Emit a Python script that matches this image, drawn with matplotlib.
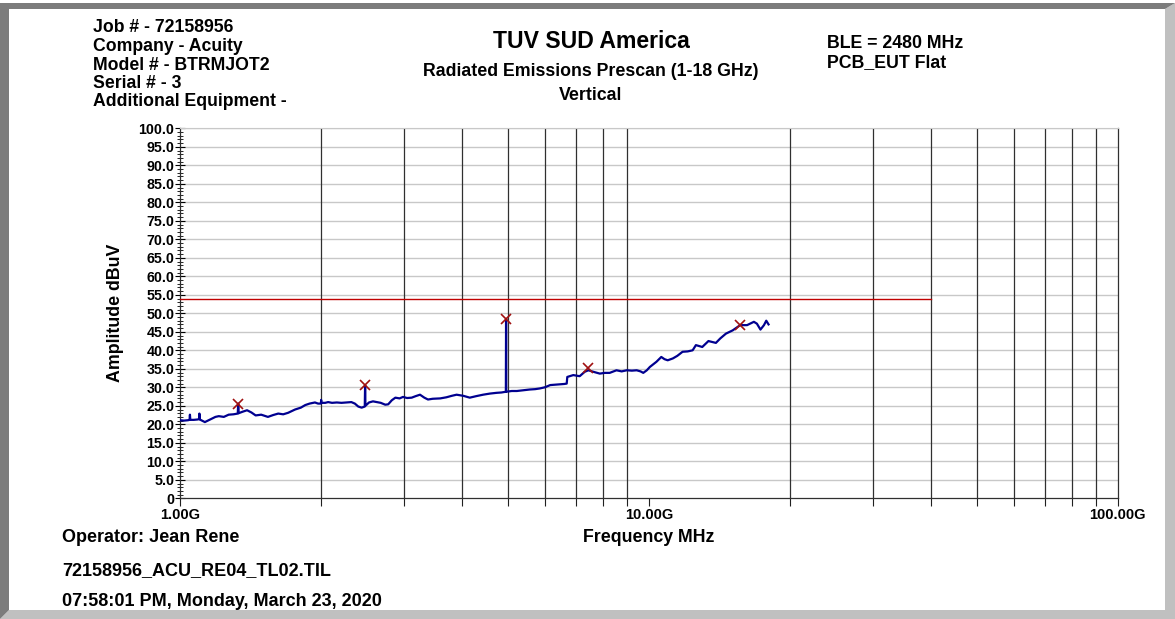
import matplotlib
matplotlib.use("Agg")
import matplotlib.pyplot as plt
from matplotlib.patches import Polygon
from matplotlib.ticker import FixedLocator, MultipleLocator, NullFormatter

plt.rcParams['font.family'] = ['Liberation Sans', 'DejaVu Sans']
plt.rcParams['font.weight'] = 'bold'

# Prescan trace (GHz, dBuV)
trace_ghz = [1.000, 1.02, 1.04, 1.048, 1.050, 1.052, 1.07, 1.09, 1.098, 1.100, 1.102,
             1.13, 1.16, 1.19, 1.21, 1.24, 1.27, 1.30, 1.328, 1.331, 1.334, 1.36, 1.39,
             1.42, 1.45, 1.49, 1.54, 1.58, 1.62, 1.66, 1.70, 1.76, 1.81, 1.85, 1.89,
             1.94, 1.97, 1.998, 2.000, 2.002, 2.04, 2.07, 2.11, 2.16, 2.21, 2.27, 2.32,
             2.36, 2.40, 2.44, 2.478, 2.482, 2.486, 2.53, 2.58, 2.63, 2.68, 2.74, 2.78,
             2.83, 2.88, 2.94, 2.99, 3.05, 3.12, 3.18, 3.25, 3.32, 3.38, 3.46, 3.59,
             3.70, 3.80, 3.89, 4.02, 4.15, 4.28, 4.43, 4.58, 4.73, 4.85, 4.955, 4.96,
             4.965, 5.10, 5.23, 5.40, 5.57, 5.72, 5.86, 6.00, 6.16, 6.30, 6.45, 6.60,
             6.68, 6.70, 6.90, 7.12, 7.30, 7.43, 7.61, 7.86, 8.05, 8.25, 8.53, 8.75,
             8.97, 9.20, 9.42, 9.60, 9.73, 9.90, 10.05, 10.38, 10.63, 10.80, 10.97,
             11.25, 11.50, 11.80, 12.10, 12.40, 12.60, 13.00, 13.40, 13.90, 14.20,
             14.60, 15.10, 15.66, 16.20, 16.50, 16.75, 17.00, 17.30, 17.60, 17.80, 18.00]
trace_dbuv = [21.1, 21.0, 21.1, 21.2, 22.6, 21.2, 21.2, 21.3, 21.4, 22.9, 21.3,
              20.6, 21.3, 22.0, 22.2, 22.0, 22.6, 22.7, 22.9, 25.6, 23.0, 23.4, 23.8,
              23.2, 22.4, 22.6, 22.0, 22.5, 22.9, 22.7, 23.1, 24.0, 24.5, 25.2, 25.6,
              25.9, 25.6, 25.6, 26.6, 25.8, 25.8, 26.0, 25.8, 25.9, 25.8, 25.9, 26.0,
              25.6, 24.8, 24.5, 24.8, 30.6, 25.0, 25.9, 26.2, 26.0, 25.8, 25.3, 25.4,
              26.5, 27.2, 27.0, 27.4, 27.1, 27.2, 27.6, 28.0, 27.2, 26.7, 26.9, 27.0,
              27.3, 27.7, 28.0, 27.7, 27.2, 27.6, 28.0, 28.3, 28.5, 28.6, 28.8, 48.5,
              28.8, 29.0, 29.0, 29.2, 29.4, 29.5, 29.7, 30.0, 30.6, 30.7, 30.8, 30.9,
              31.0, 32.8, 33.3, 33.0, 34.2, 34.6, 34.2, 33.7, 33.9, 33.9, 34.6, 34.3,
              34.6, 34.5, 34.6, 34.3, 33.9, 34.6, 35.5, 36.9, 38.2, 37.6, 37.3,
              37.8, 38.5, 39.6, 39.7, 40.0, 41.4, 40.9, 42.5, 42.0, 43.2,
              44.5, 45.4, 46.8, 46.8, 47.3, 47.7, 47.2, 45.6, 46.8, 48.0, 47.0]

# Peak markers
peak_ghz = [1.331, 2.482, 4.96, 7.43, 15.66]
peak_dbuv = [25.6, 30.6, 48.5, 35.2, 46.8]

# Limit line
limit_ghz = [1.0, 40.0]
limit_dbuv = [54.0, 54.0]

xtick_mhz = [1000, 10000, 100000]
xtick_labels = ["1.00G", "10.00G", "100.00G"]

W, H = 1175, 619
fig = plt.figure(figsize=(W / 100, H / 100), dpi=100)
fig.patch.set_facecolor('white')


def px(x, y):
    return (x / W, 1 - y / H)


# sunken window border
fig.patches.append(Polygon([px(1175, 3), px(1175, 619), px(0, 619), px(9, 610),
                            px(1165, 610), px(1165, 9)], closed=True,
                           transform=fig.transFigure, facecolor='#c0c0c0',
                           edgecolor='none', zorder=0))
fig.patches.append(Polygon([px(0, 3), px(1175, 3), px(1165, 9), px(9, 9),
                            px(9, 610), px(0, 619)], closed=True,
                           transform=fig.transFigure, facecolor='#7c7c7c',
                           edgecolor='none', zorder=0))

ax = fig.add_axes([180 / W, 1 - 498.3 / H, 937.7 / W, 370 / H])
ax.set_facecolor('white')

trace_mhz = [f * 1000 for f in trace_ghz]
peak_mhz = [f * 1000 for f in peak_ghz]
limit_mhz = [f * 1000 for f in limit_ghz]

ax.plot(limit_mhz, limit_dbuv, color='#c00000', lw=1.0, zorder=3)
ax.plot(trace_mhz, trace_dbuv, color='#000090', lw=1.6, zorder=4)
ax.plot(peak_mhz, peak_dbuv, ls='none', marker='x', color='#a01010',
        ms=7, mew=1.2, zorder=5)

ax.set_xscale('log')
ax.set_xlim(1000, 100000)
ax.set_ylim(0, 100)

ax.xaxis.set_major_locator(FixedLocator(xtick_mhz))
ax.set_xticklabels(xtick_labels, fontsize=10.5, fontweight='bold')
minor_x = [m * d for d in (1000, 10000) for m in range(2, 10)]
ax.xaxis.set_minor_locator(FixedLocator(minor_x))
ax.xaxis.set_minor_formatter(NullFormatter())
ax.tick_params(axis='x', which='both', direction='out', length=6, width=0.8,
               color='#202020', pad=1)

ax.yaxis.set_minor_locator(MultipleLocator(1))
ylabels = ["0" if v == 0 else f"{v:.1f}" for v in range(0, 101, 5)]
ax.set_yticks(list(range(0, 101, 5)))
ax.set_yticklabels(ylabels, fontsize=10.3, fontweight='bold')
ax.tick_params(axis='y', which='major', direction='inout', length=7, width=0.8, pad=0.5)
ax.tick_params(axis='y', which='minor', direction='inout', length=5, width=0.6)

for v in range(5, 101, 5):
    ax.axhline(v, color='#c8c8c8', lw=1.0, zorder=1)
for f in minor_x:
    ax.axvline(f, color='#303030', lw=0.9, zorder=1)

for s in ('left', 'bottom', 'right'):
    ax.spines[s].set_color('#303030')
    ax.spines[s].set_linewidth(0.9)
ax.spines['top'].set_color('#c8c8c8')

ax.set_xlabel("Frequency MHz", fontsize=12.8, fontweight='bold')
ax.xaxis.set_label_coords(0.5, -(538 - 498.3) / 370)
ax.xaxis.label.set_va('center')
ax.set_ylabel("Amplitude dBuV", fontsize=12.8, fontweight='bold')
ax.yaxis.set_label_coords((115 - 180) / 937.7, 0.5)
ax.yaxis.label.set_va('center')

# header texts
left_lines = ["Job # - 72158956", "Company - Acuity", "Model # - BTRMJOT2",
              "Serial # - 3", "Additional Equipment -"]
for i, t in enumerate(left_lines):
    fig.text(93 / W, 1 - (28 + 18.5 * i) / H, t, fontsize=12.7, fontweight='bold',
             ha='left', va='center')
fig.text(591 / W, 1 - 42 / H, "TUV SUD America", fontsize=16.6, fontweight='bold',
         ha='center', va='center')
fig.text(591 / W, 1 - 72 / H, "Radiated Emissions Prescan (1-18 GHz)", fontsize=12.8,
         fontweight='bold', ha='center', va='center')
fig.text(591 / W, 1 - 95 / H, "Vertical", fontsize=12.8, fontweight='bold',
         ha='center', va='center')
fig.text(827 / W, 1 - 43 / H, "BLE = 2480 MHz", fontsize=12.8, fontweight='bold',
         ha='left', va='center')
fig.text(827 / W, 1 - 63 / H, "PCB_EUT Flat", fontsize=12.8, fontweight='bold',
         ha='left', va='center')

# footer texts
fig.text(62 / W, 1 - 538 / H, "Operator: Jean Rene", fontsize=13, fontweight='bold',
         ha='left', va='center')
fig.text(62 / W, 1 - 571 / H, "72158956_ACU_RE04_TL02.TIL", fontsize=13,
         fontweight='bold', ha='left', va='center')
fig.text(62 / W, 1 - 601 / H, "07:58:01 PM, Monday, March 23, 2020", fontsize=13,
         fontweight='bold', ha='left', va='center')

fig.savefig("out.png", dpi=100)
